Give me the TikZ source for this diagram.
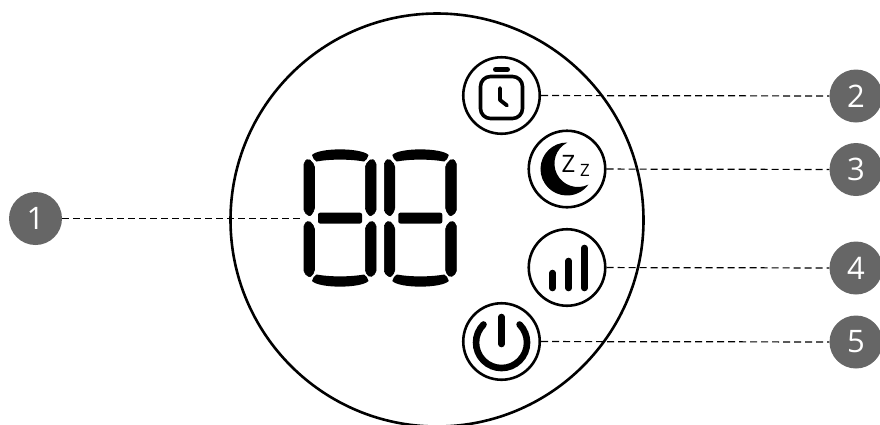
\documentclass[tikz,border=0pt]{standalone}
\usepackage{fontspec}
\setmainfont{Open Sans}
\usepackage{xcolor}
\usetikzlibrary{arrows.meta,positioning,calc}
\definecolor{badgegray}{HTML}{666666}

\begin{document}
\begin{tikzpicture}[
  x=1pt, y=-1pt,
  ring/.style={draw, circle, line width=2.6pt, minimum size=76.5pt, inner sep=0pt},
  badge/.style={circle, fill=badgegray, text=white, minimum size=53pt, inner sep=0pt,
    font=\fontsize{31}{31}\selectfont},
  lead/.style={line width=1.2pt, dash pattern=on 7pt off 4pt},
  seg/.style={fill=black, draw=black, line width=0.6pt, rounded corners=2pt},
  bar/.style={line width=6.6pt, line cap=round},
  zed/.style={inner sep=0pt, text=black}]
  \clip (0,0) rectangle (880,424);
  % --- big dial ---
  \node[draw, circle, line width=2.6pt, minimum size=413pt, inner sep=0pt] (dial) at (437,220) {};
  % --- icon buttons ---
  \node[ring] (timer) at (501.5,95.5)  {};
  \node[ring] (sleep) at (567,169)     {};
  \node[ring] (level) at (567,267.5)   {};
  \node[ring] (power) at (501.5,341.5) {};
  % --- numbered badges ---
  \node[badge] (n1) at (35.5,218.5) {1};
  \node[badge] (n2) at (856,96)     {2};
  \node[badge] (n3) at (856,169.5)  {3};
  \node[badge] (n4) at (856,268)    {4};
  \node[badge] (n5) at (856,342)    {5};
  \coordinate (digits) at (304,218.5);
  % --- two seven segment digits ---
  \foreach \dx in {0,80.3} {
    \begin{scope}[xshift=\dx pt]
      \fill[black] (312,155) .. controls (319,147.5) and (361,147.5) .. (368.5,155)
        .. controls (367.5,158) and (366.5,160.5) .. (364,161.5)
        .. controls (350,159) and (330,159) .. (316.5,161.5)
        .. controls (314,160.5) and (313,158) .. cycle;
      \fill[black] (312,281) .. controls (319,288.5) and (361,288.5) .. (368.5,281)
        .. controls (367.5,278) and (366.5,275.5) .. (364,274.5)
        .. controls (350,277) and (330,277) .. (316.5,274.5)
        .. controls (314,275.5) and (313,278) .. cycle;
      \filldraw[seg] (304,162) -- (308.5,158.5) -- (314.5,165) -- (314.5,210) -- (310,216.5) -- (304,212) -- cycle;
      \filldraw[seg] (376,162) -- (371.5,158.5) -- (365.3,165) -- (365.3,210) -- (370,216.5) -- (376,212) -- cycle;
      \filldraw[seg] (304,224) -- (309,220.5) -- (314.5,227) -- (314.5,272) -- (310,277.5) -- (304,273) -- cycle;
      \filldraw[seg] (376,224) -- (371,220.5) -- (365.3,227) -- (365.3,272) -- (370,277.5) -- (376,273) -- cycle;
      \fill[black, rounded corners=2pt] (318,212.7) rectangle (362,223.5);
    \end{scope}
  }
  % --- stopwatch ---
  \draw[line width=3.6pt, rounded corners=10pt] (480.5,76.5) rectangle (522.5,118.5);
  \draw[line width=5pt, line cap=round] (495.5,69.5) -- (507.5,69.5);
  \draw[line width=3.8pt, line cap=round, line join=round] (500,88) -- (500,100) -- (507,105.5);
  % --- moon and zz ---
  \fill[black] (567.45,142.5) arc[start angle=89, end angle=324.1, radius=26.5pt]
    arc[start angle=296.6, end angle=116.6, radius=23.5pt] -- cycle;
  \node[zed, font=\fontsize{24}{24}\selectfont] (bigz) at (568.5,163.5) {Z};
  \node[zed, font=\fontsize{17}{17}\selectfont] (smallz) at (585,170) {Z};
  % --- signal bars ---
  \draw[bar] (552.5,273) -- (552.5,288);
  \draw[bar] (568.7,261) -- (568.7,288);
  \draw[bar] (584.3,248) -- (584.3,288);
  % --- power symbol ---
  \draw[line width=6.6pt, line cap=round] (483.5,324.5) arc[start angle=135, end angle=405, radius=25.5pt];
  \draw[line width=6.6pt, line cap=round] (501.5,317) -- (501.5,344);
  % --- leader lines ---
  \draw[lead] (n1) -- (digits);
  \draw[lead] (timer) -- (n2);
  \draw[lead] (sleep) -- (n3);
  \draw[lead] (level) -- (n4);
  \draw[lead] (power) -- (n5);
\end{tikzpicture}
\end{document}
